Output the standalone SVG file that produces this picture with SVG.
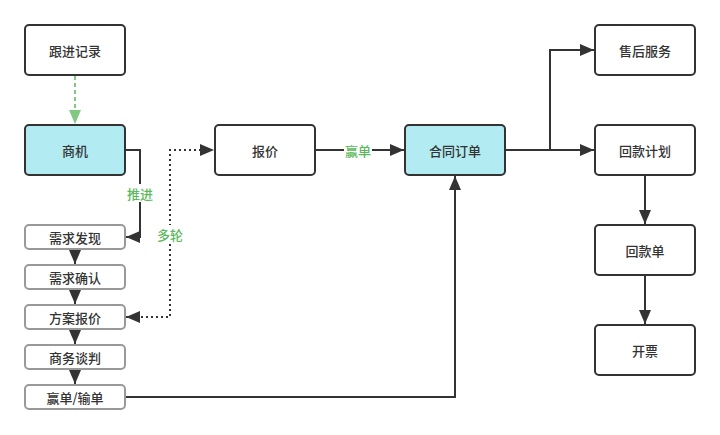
<svg xmlns="http://www.w3.org/2000/svg" width="720" height="435" viewBox="0 0 720 435">
<style>
.n{fill:#fff;stroke:#333;stroke-width:2}
.c{fill:#b2ebf2;stroke:#333;stroke-width:2}
.s{fill:#fff;stroke:#999;stroke-width:2}
text{font-family:"Noto Sans CJK SC","Liberation Sans",sans-serif;font-size:13px;font-weight:500;fill:#333;text-anchor:middle;dominant-baseline:central}
.g{fill:#5cb85c}
.ln{fill:none;stroke:#333;stroke-width:2}
.dt{fill:none;stroke:#333;stroke-width:2;stroke-dasharray:2 3}
.gd{fill:none;stroke:#82c882;stroke-width:2;stroke-dasharray:4 3}
</style>
<defs>
<marker id="a" viewBox="0 0 14 12" refX="14" refY="6" markerWidth="14" markerHeight="12" markerUnits="userSpaceOnUse" orient="auto-start-reverse"><path d="M0,0 L14,6 L0,12 Z" fill="#333"/></marker>
<marker id="ag" viewBox="0 0 14 12" refX="14" refY="6" markerWidth="14" markerHeight="12" markerUnits="userSpaceOnUse" orient="auto"><path d="M0,0 L14,6 L0,12 Z" fill="#82c882"/></marker>
</defs>
<rect width="720" height="435" fill="#fff"/>
<g id="connectors">
<path class="gd" d="M75,76 V124" marker-end="url(#ag)"/>
<path class="ln" d="M126,150 H140 V237 H126" marker-end="url(#a)"/>
<path class="dt" d="M126,317 H170 V150 H214" marker-end="url(#a)" marker-start="url(#a)"/>
<path class="ln" d="M316,150 H404" marker-end="url(#a)"/>
<path class="ln" d="M126,397 H455 V176" marker-end="url(#a)"/>
<path class="ln" d="M506,150 H594" marker-end="url(#a)"/>
<path class="ln" d="M550,150 V50 H594" marker-end="url(#a)"/>
<path class="ln" d="M645,176 V224" marker-end="url(#a)"/>
<path class="ln" d="M645,276 V324" marker-end="url(#a)"/>
<path class="ln" d="M75,250 V264" marker-end="url(#a)"/>
<path class="ln" d="M75,290 V304" marker-end="url(#a)"/>
<path class="ln" d="M75,330 V344" marker-end="url(#a)"/>
<path class="ln" d="M75,370 V384" marker-end="url(#a)"/>
<rect x="126" y="184" width="28" height="18" fill="#fff"/>
<text class="g" x="140" y="193">推进</text>
<rect x="156" y="225" width="28" height="18" fill="#fff"/>
<text class="g" x="170" y="234">多轮</text>
<rect x="344" y="141" width="28" height="18" fill="#fff"/>
<text class="g" x="358" y="150">赢单</text>
</g>
<g id="n-genjin"><rect class="n" x="25" y="25" width="100" height="50" rx="4"/><text x="75" y="50">跟进记录</text></g>
<g id="n-shangji"><rect class="c" x="25" y="125" width="100" height="50" rx="4"/><text x="75" y="150">商机</text></g>
<g id="n-baojia"><rect class="n" x="215" y="125" width="100" height="50" rx="4"/><text x="265" y="150">报价</text></g>
<g id="n-hetong"><rect class="c" x="405" y="125" width="100" height="50" rx="4"/><text x="455" y="150">合同订单</text></g>
<g id="n-shouhou"><rect class="n" x="595" y="25" width="100" height="50" rx="4"/><text x="645" y="50">售后服务</text></g>
<g id="n-huikuanjihua"><rect class="n" x="595" y="125" width="100" height="50" rx="4"/><text x="645" y="150">回款计划</text></g>
<g id="n-huikuandan"><rect class="n" x="595" y="225" width="100" height="50" rx="4"/><text x="645" y="250">回款单</text></g>
<g id="n-kaipiao"><rect class="n" x="595" y="325" width="100" height="50" rx="4"/><text x="645" y="350">开票</text></g>
<g id="n-xuqiufaxian"><rect class="s" x="25" y="225" width="100" height="24" rx="4"/><text x="75" y="237">需求发现</text></g>
<g id="n-xuqiuqueren"><rect class="s" x="25" y="265" width="100" height="24" rx="4"/><text x="75" y="277">需求确认</text></g>
<g id="n-fangan"><rect class="s" x="25" y="305" width="100" height="24" rx="4"/><text x="75" y="317">方案报价</text></g>
<g id="n-shangwu"><rect class="s" x="25" y="345" width="100" height="24" rx="4"/><text x="75" y="357">商务谈判</text></g>
<g id="n-yingdan"><rect class="s" x="25" y="385" width="100" height="24" rx="4"/><text x="75" y="397">赢单/输单</text></g>
</svg>
